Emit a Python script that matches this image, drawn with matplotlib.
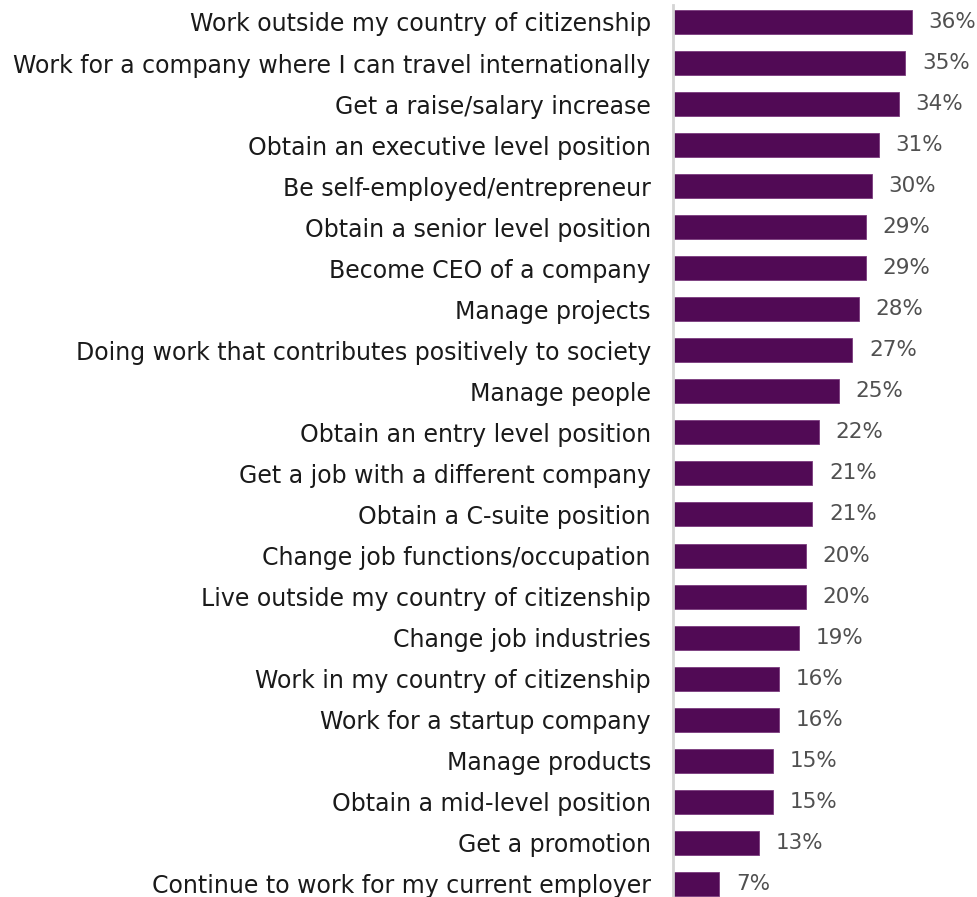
import matplotlib
matplotlib.use("Agg")
import matplotlib.pyplot as plt

# Career goals and share of respondents (%)
goals = [
    "Work outside my country of citizenship",
    "Work for a company where I can travel internationally",
    "Get a raise/salary increase",
    "Obtain an executive level position",
    "Be self-employed/entrepreneur",
    "Obtain a senior level position",
    "Become CEO of a company",
    "Manage projects",
    "Doing work that contributes positively to society",
    "Manage people",
    "Obtain an entry level position",
    "Get a job with a different company",
    "Obtain a C-suite position",
    "Change job functions/occupation",
    "Live outside my country of citizenship",
    "Change job industries",
    "Work in my country of citizenship",
    "Work for a startup company",
    "Manage products",
    "Obtain a mid-level position",
    "Get a promotion",
    "Continue to work for my current employer",
]
shares = [36, 35, 34, 31, 30, 29, 29, 28, 27, 25, 22, 21, 21, 20, 20, 19, 16, 16, 15, 15, 13, 7]

plt.rcParams['font.family'] = ['DejaVu Sans']

fig = plt.figure(figsize=(9.78, 8.97), dpi=100)
ax = fig.add_axes([673 / 978, 0, 1 - 673 / 978, 1])

pos = list(range(len(goals)))
ax.barh(pos, shares, height=0.585, color="#510a55", edgecolor="#7a3a7d", linewidth=0.6)

# percentage labels just past the bar ends
for y, v in zip(pos, shares):
    ax.text(v + 2.5, y, f"{v}%", va="center", ha="left", fontsize=15.5, color="#505050")

ax.set_yticks(pos)
ax.set_yticklabels(goals, fontsize=17, color="#1a1a1a")
ax.tick_params(axis="y", length=0, pad=16)
ax.set_xticks([])
ax.set_xlim(0, 305 / 6.64)
ax.set_ylim(21.32, -0.536)

for s in ["top", "right", "bottom"]:
    ax.spines[s].set_visible(False)
ax.spines["left"].set_color("#d4d4d4")
ax.spines["left"].set_linewidth(2)
ax.spines["left"].set_bounds(21.32, -0.42)

fig.savefig("out.png", dpi=100)
